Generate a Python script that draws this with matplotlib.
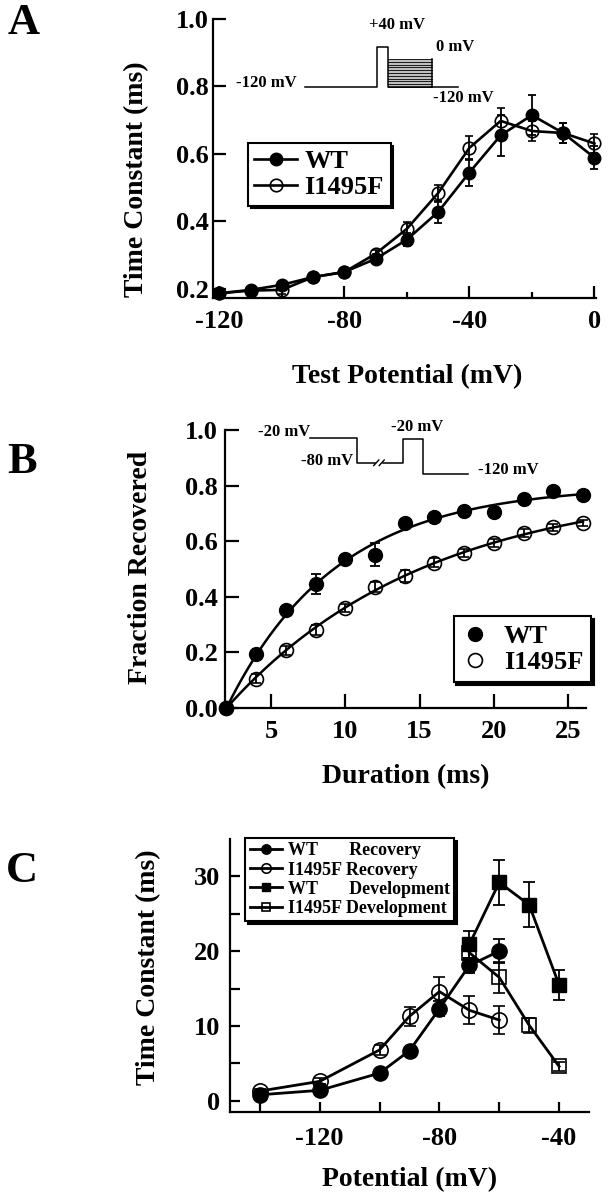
import matplotlib
matplotlib.use('Agg')
import matplotlib.pyplot as plt
import numpy as np
from matplotlib.ticker import FormatStrFormatter

plt.rcParams['font.family'] = ['Liberation Serif', 'DejaVu Serif']
plt.rcParams['font.weight'] = 'bold'
plt.rcParams['axes.labelweight'] = 'bold'
plt.rcParams['axes.unicode_minus'] = False

# ---- Panel A: time constant vs test potential ----
a_volt = [-120, -110, -100, -90, -80, -70, -60, -50, -40, -30, -20, -10, 0]
a_wt = [0.187, 0.197, 0.212, 0.235, 0.25, 0.289, 0.346, 0.428, 0.545, 0.655, 0.715, 0.662, 0.589]
a_wt_err = [0.008, 0.008, 0.01, 0.008, 0.008, 0.015, 0.02, 0.033, 0.04, 0.06, 0.06, 0.03, 0.035]
a_mut = [0.187, 0.195, 0.197, 0.235, 0.25, 0.304, 0.378, 0.484, 0.618, 0.698, 0.668, 0.662, 0.631]
a_mut_err = [0.008, 0.008, 0.012, 0.008, 0.008, 0.012, 0.02, 0.025, 0.035, 0.037, 0.03, 0.03, 0.027]

# ---- Panel B: fraction recovered vs duration ----
b_dur = [2, 4, 6, 8, 10, 12, 14, 16, 18, 20, 22, 24, 26]
b_wt = [0.0, 0.195, 0.352, 0.445, 0.535, 0.552, 0.665, 0.686, 0.707, 0.705, 0.751, 0.781, 0.767]
b_wt_err = [0.0, 0.01, 0.015, 0.036, 0.015, 0.043, 0.01, 0.01, 0.01, 0.015, 0.01, 0.01, 0.01]
b_mut = [0.0, 0.106, 0.207, 0.281, 0.36, 0.436, 0.475, 0.523, 0.558, 0.594, 0.63, 0.65, 0.665]
b_mut_err = [0.0, 0.015, 0.015, 0.018, 0.015, 0.018, 0.02, 0.015, 0.015, 0.015, 0.015, 0.012, 0.01]

# ---- Panel C: recovery / development time constants ----
c_rec_volt = [-140, -120, -100, -90, -80, -70, -60]
c_wt_rec = [0.8, 1.4, 3.7, 6.7, 12.3, 18.1, 20.0]
c_wt_rec_err = [0.3, 0.3, 0.4, 0.5, 1.0, 1.0, 1.6]
c_mut_rec = [1.3, 2.6, 6.8, 11.3, 14.6, 12.1, 10.8]
c_mut_rec_err = [0.3, 0.4, 0.7, 1.3, 1.9, 1.9, 1.9]
c_dev_volt = [-70, -60, -50, -40]
c_wt_dev = [20.9, 29.2, 26.2, 15.5]
c_wt_dev_err = [1.8, 3.0, 3.0, 2.0]
c_mut_dev = [19.8, 16.5, 10.1, 4.6]
c_mut_dev_err = [1.0, 2.1, 1.0, 0.6]


def px_rect(left, top, right, bottom):
    return [left / 608, 1 - bottom / 1200, (right - left) / 608, (bottom - top) / 1200]


def style_axes(ax, ticklen, pad_x, pad_y):
    for s in ['top', 'right']:
        ax.spines[s].set_visible(False)
    for s in ['left', 'bottom']:
        ax.spines[s].set_linewidth(1.6)
    ax.tick_params(which='both', direction='in', width=1.6, labelsize=19)
    ax.tick_params(which='major', length=ticklen)
    ax.tick_params(axis='x', pad=pad_x)
    ax.tick_params(axis='y', pad=pad_y)


def fit_recovery(t, y, t0):
    # single exponential fit y = amp * (1 - exp(-(t - t0) / tau))
    t = np.asarray(t, float)
    y = np.asarray(y, float)
    best = (np.inf, 1.0, 1.0)
    for tau in np.linspace(1, 40, 4000):
        basis = 1 - np.exp(-(t - t0) / tau)
        amp = basis @ y / (basis @ basis)
        res = np.sum((y - amp * basis) ** 2)
        if res < best[0]:
            best = (res, amp, tau)
    return best[1], best[2]


def set_clip_off(container):
    for art in container.get_children():
        art.set_clip_on(False)


fig = plt.figure(figsize=(6.08, 12), dpi=100)

# ================= Panel A =================
axA = fig.add_axes(px_rect(213, 19, 596, 298))
style_axes(axA, 9, 9, 3)
ebA1 = axA.errorbar(a_volt, a_wt, yerr=a_wt_err, fmt='-o', color='k', mfc='k', mec='k',
                    ms=9, lw=1.9, elinewidth=1.3, capsize=3, capthick=1.3, label='WT')
ebA2 = axA.errorbar(a_volt, a_mut, yerr=a_mut_err, fmt='-o', color='k', mfc='none', mec='k',
                    mew=1.2, ms=9, lw=1.9, elinewidth=1.3, capsize=3, capthick=1.3, label='I1495F')
set_clip_off(ebA1)
set_clip_off(ebA2)
axA.set_xlim(-122, 0.5)
axA.set_ylim(0.173, 1.0)
axA.set_xticks([-120, -80, -40, 0])
axA.set_xticks([-100, -60, -20], minor=True)
axA.tick_params(which='minor', length=4)
axA.set_yticks([0.2, 0.4, 0.6, 0.8, 1.0])
axA.yaxis.set_major_formatter(FormatStrFormatter('%.1f'))
axA.set_xlabel('Test Potential (mV)', fontsize=20, va='center')
axA.xaxis.set_label_coords(0.507, -0.283)
axA.set_ylabel('Time Constant (ms)', fontsize=20, va='center')
axA.yaxis.set_label_coords((137 - 213) / 383, 0.427)
legA = axA.legend(handles=[ebA1[0], ebA2[0]], labels=['WT', 'I1495F'], loc='upper left',
                  bbox_to_anchor=(0.091, 0.556), fontsize=19, frameon=True, fancybox=False,
                  edgecolor='k', framealpha=1, shadow={'color': 'k', 'alpha': 1},
                  handlelength=1.6, handletextpad=0.3, borderpad=0.25, labelspacing=0.1,
                  borderaxespad=0)
legA.get_frame().set_linewidth(1.5)

# stimulus protocol (axes fraction)
tA = axA.transAxes
axA.plot([0.240, 0.428, 0.428, 0.457, 0.457, 0.640], [0.756, 0.756, 0.900, 0.900, 0.756, 0.756],
         color='k', lw=1.1, transform=tA, clip_on=False)
axA.fill_between([0.457, 0.572], 0.756, 0.857, color='0.75', lw=0, transform=tA)
for lev in np.linspace(0.756, 0.857, 11):
    axA.plot([0.457, 0.572], [lev, lev], color='k', lw=0.6, transform=tA)
axA.plot([0.572, 0.572], [0.756, 0.857], color='k', lw=1.1, transform=tA)
axA.text(0.219, 0.771, '-120 mV', transform=tA, fontsize=12, ha='right', va='center')
axA.text(0.480, 0.978, '+40 mV', transform=tA, fontsize=12, ha='center', va='center')
axA.text(0.632, 0.900, '0 mV', transform=tA, fontsize=12, ha='center', va='center')
axA.text(0.653, 0.717, '-120 mV', transform=tA, fontsize=12, ha='center', va='center')

# ================= Panel B =================
axB = fig.add_axes(px_rect(225, 430, 586, 708))
style_axes(axB, 10, 9, 5)
ebB1 = axB.errorbar(b_dur, b_wt, yerr=b_wt_err, fmt='o', color='k', mfc='k', mec='k',
                    ms=10, elinewidth=1.3, capsize=3.5, capthick=1.3, label='WT')
ebB2 = axB.errorbar(b_dur, b_mut, yerr=b_mut_err, fmt='o', color='k', mfc='none', mec='k',
                    mew=1.2, ms=10, elinewidth=1.3, capsize=3.5, capthick=1.3, label='I1495F')
set_clip_off(ebB1)
set_clip_off(ebB2)
t_fit = np.linspace(b_dur[0], b_dur[-1], 200)
for vals in (b_wt, b_mut):
    amp, tau = fit_recovery(b_dur, vals, b_dur[0])
    axB.plot(t_fit, amp * (1 - np.exp(-(t_fit - b_dur[0]) / tau)), color='k', lw=1.8)
axB.set_xlim(1.9, 26.2)
axB.set_ylim(0, 1.0)
axB.set_xticks([5, 10, 15, 20, 25])
axB.set_yticks([0, 0.2, 0.4, 0.6, 0.8, 1.0])
axB.yaxis.set_major_formatter(FormatStrFormatter('%.1f'))
axB.set_xlabel('Duration (ms)', fontsize=20, va='center')
axB.xaxis.set_label_coords(0.5, -0.245)
axB.set_ylabel('Fraction Recovered', fontsize=20, va='center')
axB.yaxis.set_label_coords(-0.235, 0.507)
legB = axB.legend(handles=[ebB1[0], ebB2[0]], labels=['WT', 'I1495F'], loc='lower right',
                  bbox_to_anchor=(1.014, 0.094), fontsize=19, frameon=True, fancybox=False,
                  edgecolor='k', framealpha=1, shadow={'color': 'k', 'alpha': 1},
                  handlelength=1.0, handletextpad=0.6, borderpad=0.3, labelspacing=0.1,
                  borderaxespad=0)
legB.get_frame().set_linewidth(1.5)

tB = axB.transAxes
axB.plot([0.235, 0.366, 0.366, 0.416], [0.971, 0.971, 0.881, 0.881], color='k', lw=1.1,
         transform=tB, clip_on=False)
axB.plot([0.438, 0.493, 0.493, 0.548, 0.548, 0.673], [0.881, 0.881, 0.968, 0.968, 0.842, 0.842],
         color='k', lw=1.1, transform=tB, clip_on=False)
axB.plot([0.412, 0.426], [0.872, 0.892], color='k', lw=1.0, transform=tB)
axB.plot([0.427, 0.441], [0.872, 0.892], color='k', lw=1.0, transform=tB)
axB.text(0.235, 0.994, '-20 mV', transform=tB, fontsize=12, ha='right', va='center')
axB.text(0.355, 0.888, '-80 mV', transform=tB, fontsize=12, ha='right', va='center')
axB.text(0.532, 1.011, '-20 mV', transform=tB, fontsize=12, ha='center', va='center')
axB.text(0.701, 0.856, '-120 mV', transform=tB, fontsize=12, ha='left', va='center')

# ================= Panel C =================
axC = fig.add_axes(px_rect(230, 839, 589, 1112))
style_axes(axC, 7, 11, 7)
kw = dict(color='k', lw=2.0, elinewidth=1.3, capsize=4, capthick=1.3, mec='k')
ebC1 = axC.errorbar(c_rec_volt, c_wt_rec, yerr=c_wt_rec_err, fmt='-o', mfc='k', ms=11, **kw)
ebC2 = axC.errorbar(c_rec_volt, c_mut_rec, yerr=c_mut_rec_err, fmt='-o', mfc='none', mew=1.2, ms=11, **kw)
ebC3 = axC.errorbar(c_dev_volt, c_wt_dev, yerr=c_wt_dev_err, fmt='-s', mfc='k', ms=10, **kw)
ebC4 = axC.errorbar(c_dev_volt, c_mut_dev, yerr=c_mut_dev_err, fmt='-s', mfc='none', mew=1.2, ms=10, **kw)
for eb in (ebC1, ebC2, ebC3, ebC4):
    set_clip_off(eb)
axC.set_xlim(-150, -30)
axC.set_ylim(-1.5, 35)
axC.set_xticks([-120, -80, -40])
axC.set_xticks([-140, -100, -60], minor=True)
axC.set_yticks([0, 10, 20, 30])
axC.set_yticks([5, 15, 25], minor=True)
axC.tick_params(which='minor', length=7)
axC.set_xlabel('Potential (mV)', fontsize=20, va='center')
axC.xaxis.set_label_coords(0.5, -0.249)
axC.set_ylabel('Time Constant (ms)', fontsize=20, va='center')
axC.yaxis.set_label_coords(-0.228, 0.531)
legC = axC.legend(handles=[ebC1[0], ebC2[0], ebC3[0], ebC4[0]],
                  labels=['WT       Recovery', 'I1495F Recovery',
                          'WT       Development', 'I1495F Development'],
                  loc='upper left', bbox_to_anchor=(0.042, 1.004), fontsize=13, frameon=True,
                  fancybox=False, edgecolor='k', framealpha=1,
                  shadow={'color': 'k', 'alpha': 1}, markerscale=0.62,
                  handlelength=1.8, handletextpad=0.3, borderpad=0.25, labelspacing=0.12,
                  borderaxespad=0)
legC.get_frame().set_linewidth(1.5)

# panel letters
fig.text(24 / 608, 1 - 23 / 1200, 'A', fontsize=32, ha='center', va='center')
fig.text(22 / 608, 1 - 462 / 1200, 'B', fontsize=32, ha='center', va='center')
fig.text(22 / 608, 1 - 871 / 1200, 'C', fontsize=32, ha='center', va='center')

fig.savefig('out.png', dpi=100, facecolor='white')
